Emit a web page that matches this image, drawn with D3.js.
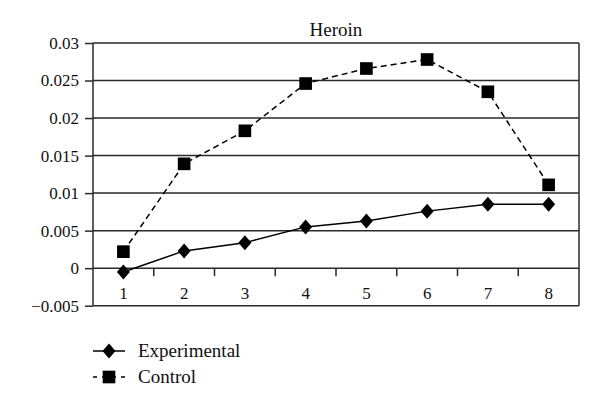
<!DOCTYPE html>
<html><head><meta charset="utf-8">
<script src="https://cdn.jsdelivr.net/npm/d3@7"></script>
<style>body{margin:0;background:#fff}svg{display:block}</style>
</head><body>
<script>
const categories = ["1","2","3","4","5","6","7","8"];
const experimental = [-0.0005, 0.0023, 0.0034, 0.0055, 0.0063, 0.0076, 0.0085, 0.0085];
const control = [0.0022, 0.0139, 0.0183, 0.0246, 0.0266, 0.0278, 0.0235, 0.0111];
const yTicks = [-0.005, 0, 0.005, 0.01, 0.015, 0.02, 0.025, 0.03];
const yTickLabels = ["\u22120.005","0","0.005","0.01","0.015","0.02","0.025","0.03"];
const title = "Heroin";
const seriesNames = ["Experimental","Control"];

const FONT = "Liberation Serif, Times New Roman, serif";
const W=600,H=407;
const svg=d3.select("body").append("svg").attr("width",W).attr("height",H)
  .attr("font-family",FONT).attr("font-size",16);
const L=93,R=579,T=43,B=305.7;
const x=d3.scaleBand().domain(categories).range([L,R]);
const y=d3.scaleLinear().domain([-0.005,0.03]).range([B,T]);
const stroke="#2a2a2a";

svg.append("g").selectAll("line").data(yTicks.filter(v=>v>-0.005)).join("line")
 .attr("x1",L).attr("x2",R).attr("y1",d=>y(d)).attr("y2",d=>y(d))
 .attr("stroke",stroke).attr("stroke-width",1.5);
svg.append("line").attr("x1",L).attr("x2",L).attr("y1",T).attr("y2",B).attr("stroke",stroke).attr("stroke-width",1.5);
svg.append("line").attr("x1",L).attr("x2",R).attr("y1",B).attr("y2",B).attr("stroke",stroke).attr("stroke-width",1.5);
svg.append("line").attr("x1",R).attr("x2",R).attr("y1",T).attr("y2",B).attr("stroke",stroke).attr("stroke-width",1.5);

const yAxis=d3.axisLeft(y).tickValues(yTicks).tickSize(8).tickPadding(6)
 .tickFormat((d,i)=>yTickLabels[i]);
const ga=svg.append("g").attr("transform",`translate(${L},0)`).call(yAxis)
 .attr("font-family",FONT).attr("font-size",17);
ga.select(".domain").remove();
ga.selectAll(".tick line").attr("stroke",stroke).attr("stroke-width",1.5);
ga.selectAll(".tick text").attr("fill","#111");

const bounds=categories.slice(1).map(c=>x(c));
svg.append("g").selectAll("line").data(bounds).join("line")
 .attr("x1",d=>d).attr("x2",d=>d).attr("y1",y(0)).attr("y2",y(0)+8)
 .attr("stroke",stroke).attr("stroke-width",1.5);
svg.append("g").selectAll("text").data(categories).join("text")
 .attr("x",d=>x(d)+x.bandwidth()/2).attr("y",y(0)+31)
 .attr("text-anchor","middle").attr("font-size",17).attr("fill","#111").text(d=>d);

svg.append("text").attr("x",(L+R)/2).attr("y",36).attr("text-anchor","middle").attr("font-size",19).attr("fill","#111").text(title);

const cx=i=>x(categories[i])+x.bandwidth()/2;
const line=d3.line().x((d,i)=>cx(i)).y(d=>y(d));
svg.append("path").datum(control).attr("d",line).attr("fill","none").attr("stroke","#000").attr("stroke-width",1.5).attr("stroke-dasharray","6,4");
svg.append("path").datum(experimental).attr("d",line).attr("fill","none").attr("stroke","#000").attr("stroke-width",1.5);

const diamondType={draw(ctx,size){const w=6.5,h=7.5;ctx.moveTo(0,-h);ctx.lineTo(w,0);ctx.lineTo(0,h);ctx.lineTo(-w,0);ctx.closePath();}};
const sq=d3.symbol().type(d3.symbolSquare).size(160);
const dm=d3.symbol().type(diamondType);
svg.append("g").selectAll("path").data(control).join("path")
 .attr("d",sq).attr("transform",(d,i)=>`translate(${cx(i)},${y(d)})`).attr("fill","#000");
svg.append("g").selectAll("path").data(experimental).join("path")
 .attr("d",dm).attr("transform",(d,i)=>`translate(${cx(i)},${y(d)})`).attr("fill","#000");

const lg=svg.append("g");
const ly=[351,377];
lg.append("line").attr("x1",93).attr("x2",125).attr("y1",ly[0]).attr("y2",ly[0]).attr("stroke","#000").attr("stroke-width",1.5);
lg.append("path").attr("d",dm).attr("transform",`translate(109,${ly[0]})`).attr("fill","#000");
lg.append("line").attr("x1",93).attr("x2",125).attr("y1",ly[1]).attr("y2",ly[1]).attr("stroke","#000").attr("stroke-width",1.5).attr("stroke-dasharray","4,5,14,5,4");
lg.append("path").attr("d",sq).attr("transform",`translate(109,${ly[1]})`).attr("fill","#000");
lg.selectAll("text").data(seriesNames).join("text").attr("x",138).attr("y",(d,i)=>ly[i]+6)
 .attr("font-size",19).attr("fill","#111").text(d=>d);
</script>
</body></html>
